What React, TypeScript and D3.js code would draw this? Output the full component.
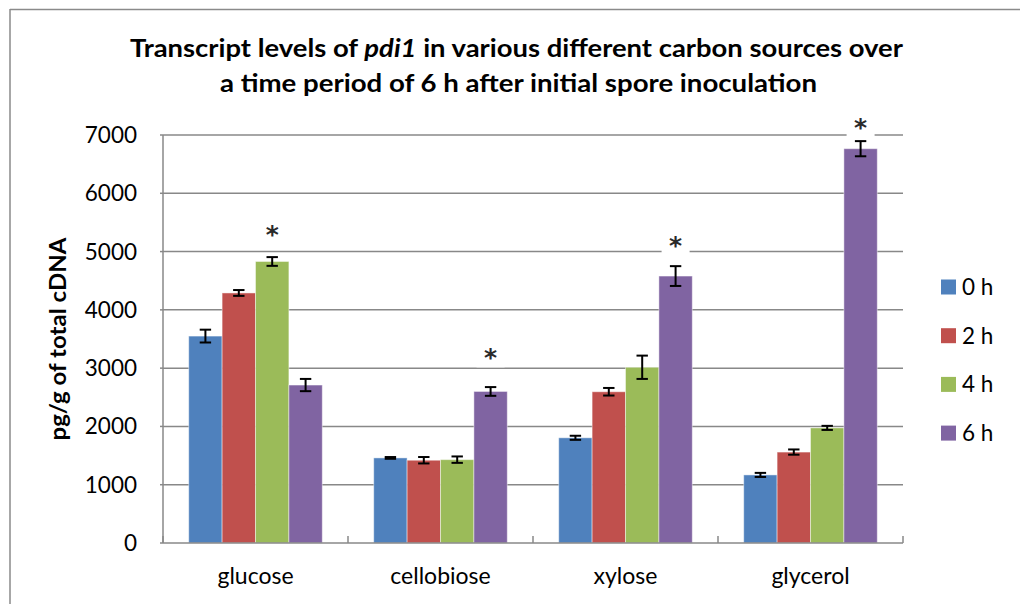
import React from "react";
import * as d3 from "d3";

const categories = ["glucose", "cellobiose", "xylose", "glycerol"];
const seriesNames = ["0 h", "2 h", "4 h", "6 h"];
const seriesColors = ["#4F81BD", "#C0504D", "#9BBB59", "#8064A2"];
const values0h = [3550, 1460, 1805, 1168];
const values2h = [4290, 1420, 2595, 1560];
const values4h = [4830, 1430, 3015, 1975];
const values6h = [2710, 2600, 4580, 6765];
const errors0h = [110, 15, 35, 35];
const errors2h = [50, 55, 65, 45];
const errors4h = [75, 55, 200, 35];
const errors6h = [105, 75, 170, 130];
const yTicks = [0, 1000, 2000, 3000, 4000, 5000, 6000, 7000];
// significance markers: category, series index, vertical position (data units)
const sigCategories = ["glucose", "cellobiose", "xylose", "glycerol"];
const sigSeries = [2, 3, 3, 3];
const sigLevels = [5400, 3280, 5200, 7240];

const seriesValues = [values0h, values2h, values4h, values6h];
const seriesErrors = [errors0h, errors2h, errors4h, errors6h];

const W = 1020;
const H = 604;
const FONT = "Lato, 'Open Sans', sans-serif";

export default function App() {
  const plotLeft = 163;
  const plotRight = 903;
  const plotTop = 135;
  const plotBottom = 543;

  const x0 = d3.scaleBand<string>().domain(categories).range([plotLeft, plotRight]).padding(0);
  const x1 = d3
    .scaleBand<string>()
    .domain(seriesNames)
    .range([0, x0.bandwidth()])
    .paddingInner(0)
    .paddingOuter(0.77);
  const y = d3.scaleLinear().domain([0, 7000]).range([plotBottom, plotTop]);

  const gridColor = "#888888";
  const capHalf = 5.7;

  const boundaries = categories.map((c) => x0(c) as number).concat([plotRight]);

  return (
    <svg
      width={W}
      height={H}
      style={{ position: "absolute", left: 0, top: 0, background: "#fff" }}
      fontFamily={FONT}
    >
      <rect x={0} y={0} width={W} height={H} fill="#fff" />
      {/* chart border */}
      <line x1={10} y1={9.5} x2={W} y2={9.5} stroke="#8a8a8a" strokeWidth={1.5} />
      <line x1={10} y1={9} x2={10} y2={H} stroke="#8a8a8a" strokeWidth={1.5} />

      {/* title */}
      <text
        x={516.5}
        y={56.5}
        textAnchor="middle"
        fontSize={25}
        fontWeight="bold"
        fill="#000"
        textLength={773}
        lengthAdjust="spacingAndGlyphs"
      >
        Transcript levels of <tspan fontStyle="italic">pdi1</tspan> in various different carbon sources over
      </text>
      <text
        x={518.5}
        y={91.5}
        textAnchor="middle"
        fontSize={25}
        fontWeight="bold"
        fill="#000"
        textLength={597}
        lengthAdjust="spacingAndGlyphs"
      >
        a time period of 6 h after initial spore inoculation
      </text>

      {/* gridlines */}
      {yTicks
        .filter((t) => t > 0)
        .map((t) => (
          <line
            key={"g" + t}
            x1={plotLeft}
            x2={plotRight}
            y1={y(t)}
            y2={y(t)}
            stroke={gridColor}
            strokeWidth={1.5}
          />
        ))}

      {/* y tick labels */}
      {yTicks.map((t) => (
        <text key={"yt" + t} x={137} y={y(t) + 8} textAnchor="end" fontSize={22.5} fill="#000">
          {t}
        </text>
      ))}

      {/* y axis title */}
      <text
        transform={`translate(66,${(plotTop + plotBottom) / 2}) rotate(-90)`}
        textAnchor="middle"
        fontSize={23}
        fontWeight="bold"
        fill="#000"
        textLength={203}
        lengthAdjust="spacingAndGlyphs"
      >
        pg/g of total cDNA
      </text>

      {/* bars */}
      {categories.map((c, ci) =>
        seriesNames.map((s, si) => {
          const v = seriesValues[si][ci];
          const bx = (x0(c) as number) + (x1(s) as number);
          const by = y(v);
          return (
            <rect
              key={c + s}
              x={bx}
              y={by}
              width={x1.bandwidth()}
              height={plotBottom - by}
              fill={seriesColors[si]}
              stroke="rgba(255,255,255,0.45)"
              strokeWidth={1}
            />
          );
        })
      )}

      {/* axes */}
      <line x1={plotLeft} x2={plotLeft} y1={plotTop} y2={plotBottom} stroke={gridColor} strokeWidth={1.5} />
      <line x1={plotLeft} x2={plotRight} y1={plotBottom} y2={plotBottom} stroke={gridColor} strokeWidth={1.5} />
      {boundaries.map((bx, i) => (
        <line key={"xt" + i} x1={bx} x2={bx} y1={plotBottom - 7} y2={plotBottom} stroke={gridColor} strokeWidth={1.5} />
      ))}
      {yTicks.map((t) => (
        <line key={"ytk" + t} x1={plotLeft - 3} x2={plotLeft} y1={y(t)} y2={y(t)} stroke={gridColor} strokeWidth={1.5} />
      ))}

      {/* error bars */}
      {categories.map((c, ci) =>
        seriesNames.map((s, si) => {
          const v = seriesValues[si][ci];
          const e = seriesErrors[si][ci];
          const cx = (x0(c) as number) + (x1(s) as number) + x1.bandwidth() / 2;
          const yt = y(v + e);
          const yb = y(v - e);
          return (
            <g key={"e" + c + s} stroke="#000" strokeWidth={2}>
              <line x1={cx} x2={cx} y1={yt} y2={yb} />
              <line x1={cx - capHalf} x2={cx + capHalf} y1={yt} y2={yt} />
              <line x1={cx - capHalf} x2={cx + capHalf} y1={yb} y2={yb} />
            </g>
          );
        })
      )}

      {/* significance asterisks */}
      {sigCategories.map((c, i) => {
        const cx = (x0(c) as number) + (x1(seriesNames[sigSeries[i]]) as number) + x1.bandwidth() / 2;
        const cy = y(sigLevels[i]);
        return (
          <g key={"sig" + i}>
            <rect x={cx - 14} y={cy - 12} width={28} height={27.5} fill="#fff" />
            <text
              x={cx}
              y={cy + 14.5}
              textAnchor="middle"
              fontSize={25}
              fontWeight="bold"
              fontFamily="'DejaVu Sans', sans-serif"
              fill="#2a2a2a"
            >
              *
            </text>
          </g>
        );
      })}

      {/* category labels */}
      {categories.map((c) => (
        <text
          key={"cl" + c}
          x={(x0(c) as number) + x0.bandwidth() / 2}
          y={584}
          textAnchor="middle"
          fontSize={23}
          fill="#000"
        >
          {c}
        </text>
      ))}

      {/* legend */}
      {seriesNames.map((s, i) => {
        const cy = 287 + i * 48.7;
        return (
          <g key={"lg" + s}>
            <rect x={941} y={cy - 7.5} width={15} height={15} fill={seriesColors[i]} />
            <text x={962} y={cy + 8} fontSize={22.5} fill="#000">
              {s}
            </text>
          </g>
        );
      })}
    </svg>
  );
}
